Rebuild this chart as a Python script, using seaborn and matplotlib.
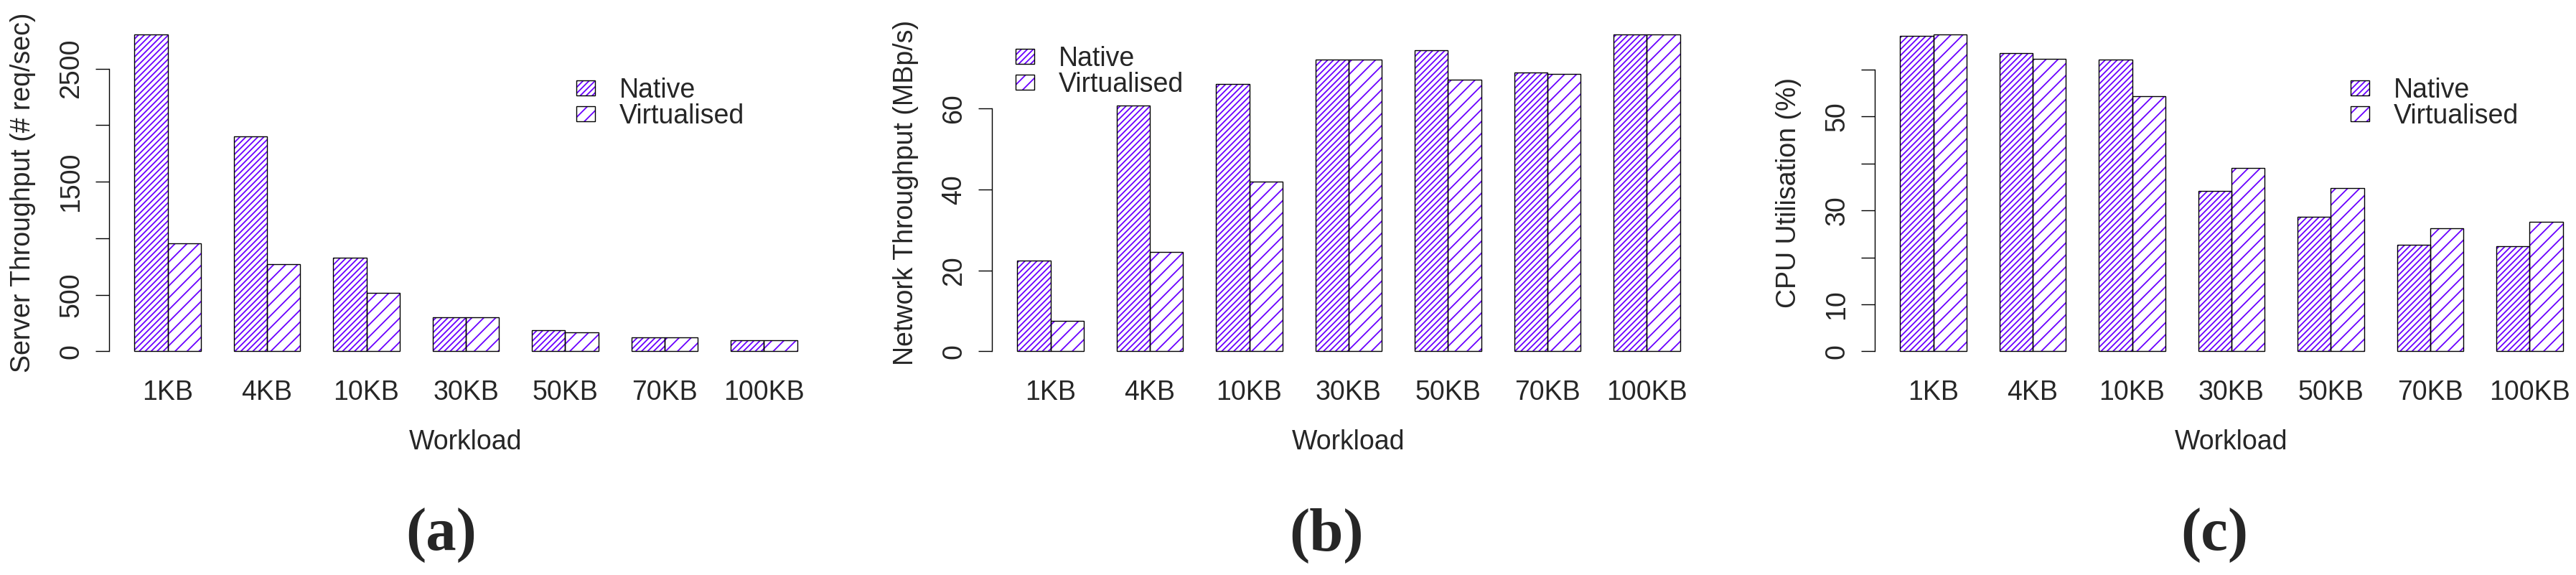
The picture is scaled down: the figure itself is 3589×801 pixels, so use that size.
import numpy as np
import pandas as pd
import matplotlib
matplotlib.use("Agg")
import matplotlib.pyplot as plt
import seaborn as sns
from matplotlib.patches import Patch, Rectangle
from matplotlib.legend_handler import HandlerTuple

workloads = ['1KB', '4KB', '10KB', '30KB', '50KB', '70KB', '100KB']
series = ['Native', 'Virtualised']

server_native = [2805, 1903, 825, 302, 185, 123, 97]
server_virt   = [955, 773, 519, 302, 166, 123, 97]
net_native    = [22.4, 60.8, 66.1, 72.1, 74.5, 68.9, 78.4]
net_virt      = [7.6, 24.6, 42.0, 72.1, 67.1, 68.5, 78.4]
cpu_native    = [67.2, 63.5, 62.1, 34.1, 28.6, 22.7, 22.4]
cpu_virt      = [67.55, 62.3, 54.3, 39.1, 34.8, 26.2, 27.6]

server_ticks  = [0, 500, 1000, 1500, 2000, 2500]
server_labels = ['0', '500', '', '1500', '', '2500']
net_ticks     = [0, 20, 40, 60]
net_labels    = ['0', '20', '40', '60']
cpu_ticks     = [0, 10, 20, 30, 40, 50, 60]
cpu_labels    = ['0', '10', '', '30', '', '50', '']

ylabels  = ['Server Throughput (# req/sec)', 'Network Throughput (MBp/s)', 'CPU Utilisation (%)']
captions = ['(a)', '(b)', '(c)']

PURPLE = '#6a00ff'
HATCHES = ['////', '//']   # dense for native, sparse for virtualised
FS = 27
W, H = 3589, 801

sns.set_style('white')
plt.rcParams['font.family'] = ['Liberation Sans', 'DejaVu Sans']
plt.rcParams['hatch.linewidth'] = 1.3


def draw_panel(ax, native, virt, ticks, labels, ylabel, legend_xy):
    df = pd.DataFrame({
        'workload': workloads * 2,
        'series': [series[0]] * len(workloads) + [series[1]] * len(workloads),
        'value': list(native) + list(virt),
    })
    sns.barplot(data=df, x='workload', y='value', hue='series', order=workloads,
                hue_order=series, palette=['white', 'white'], width=2/3,
                saturation=1, legend=False, ax=ax, linewidth=0)

    # hatch in purple, then a black outline on top
    for cont, hatch in zip(ax.containers, HATCHES):
        for p in cont.patches:
            p.set_hatch(hatch)
            p.set_edgecolor(PURPLE)
            p.set_linewidth(0)
            ax.add_patch(Rectangle(p.get_xy(), p.get_width(), p.get_height(),
                                   fill=False, edgecolor='black', lw=1.0, zorder=3))

    vmax = max(max(native), max(virt))
    ax.set_ylim(-0.04 * vmax, 1.04 * vmax)
    ax.set_xlim(-0.5933, 6.5933)

    for s in ['top', 'right', 'bottom']:
        ax.spines[s].set_visible(False)
    ax.spines['left'].set_bounds(ticks[0], ticks[-1])
    ax.spines['left'].set_linewidth(1.0)
    ax.spines['left'].set_color('black')

    ax.set_yticks(ticks)
    ax.set_yticklabels(labels, rotation=90, va='center', fontsize=FS)
    ax.tick_params(axis='y', left=True, length=13.7, width=1.0, pad=10.8, color='black')
    ax.tick_params(axis='x', length=0, pad=15.8, labelsize=FS)

    ax.set_xlabel('Workload', fontsize=FS)
    ax.xaxis.set_label_coords(0.5, -(598 - 507) / 477)
    ax.set_ylabel(ylabel, fontsize=FS)
    ax.yaxis.set_label_coords((50 - 151.5) / 995, 0.5)

    handles = [(Patch(facecolor='white', edgecolor=PURPLE, hatch=h, lw=0),
                Patch(facecolor='none', edgecolor='black', lw=1.0)) for h in HATCHES]
    ax.legend(handles, series, handler_map={tuple: HandlerTuple(ndivide=1)},
              loc='upper left', bbox_to_anchor=(legend_xy[0] / W, 1 - legend_xy[1] / H),
              bbox_transform=ax.figure.transFigure, frameon=False, fontsize=FS,
              borderpad=0, borderaxespad=0, handlelength=0.69, handleheight=0.48,
              handletextpad=0.9, labelspacing=0.0)


fig = plt.figure(figsize=(W / 100, H / 100), dpi=100)
lefts = [151.5, 1381.5, 2611.5]
legend_pos = [(803, 108), (1415, 64), (3275, 108)]
caption_x = [615, 1848, 3085]
panels = [(server_native, server_virt, server_ticks, server_labels),
          (net_native, net_virt, net_ticks, net_labels),
          (cpu_native, cpu_virt, cpu_ticks, cpu_labels)]

for i, (nat, vir, tk, lb) in enumerate(panels):
    ax = fig.add_axes([lefts[i] / W, 1 - 507 / H, 995 / W, 477 / H])
    draw_panel(ax, nat, vir, tk, lb, ylabels[i], legend_pos[i])
    fig.text(caption_x[i] / W, 1 - 746 / H, captions[i], ha='center', va='center',
             fontsize=61, fontweight='bold', family=['Liberation Serif', 'DejaVu Serif'])

plt.savefig('out.png', dpi=100)
